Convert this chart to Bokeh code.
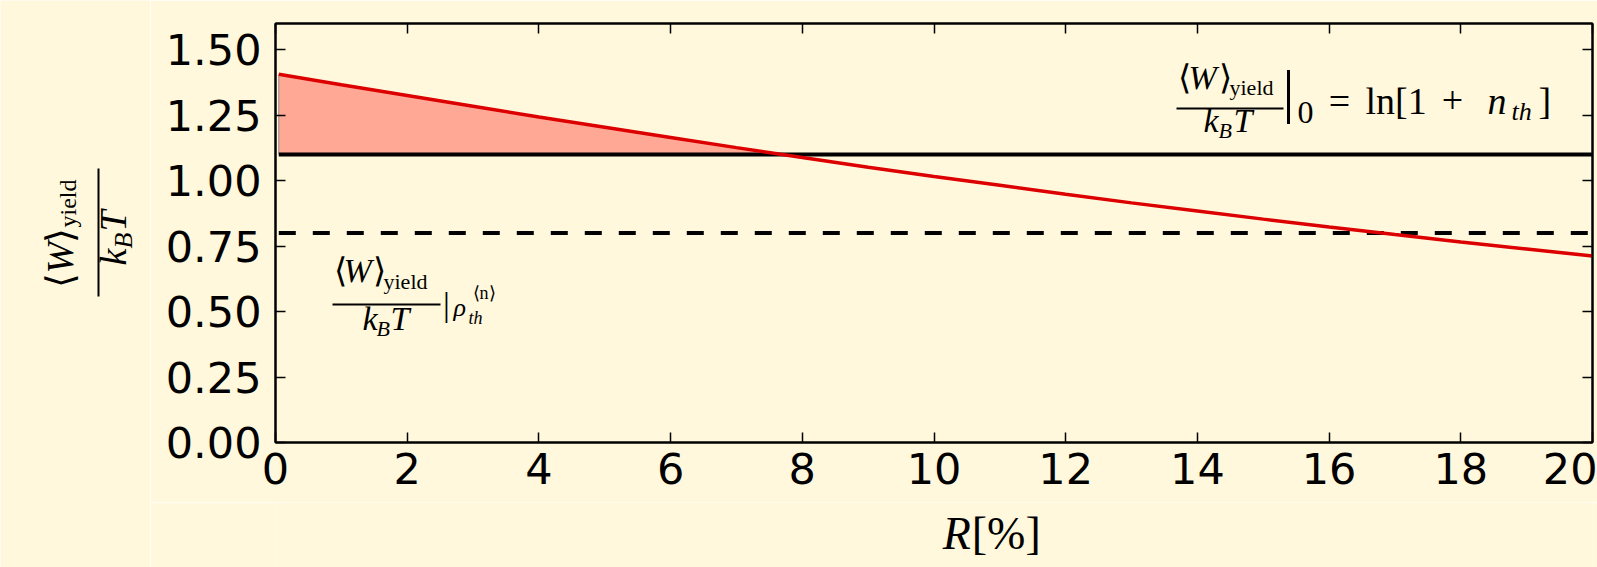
import math
import numpy as np
from bokeh.plotting import figure
from bokeh.layouts import row, column
from bokeh.models import (Label, Arrow, FixedTicker, PrintfTickFormatter, LinearAxis,
                          CustomJSTickFormatter, Range1d)
from bokeh.embed import file_html
from bokeh.resources import INLINE

# Reflectivity loss R [%] and the work yield <W>/k_B T it allows
r_pct = [0.05, 1, 2, 3, 4, 5, 6, 7, 8, 9, 10, 11, 12, 13, 14, 15, 16, 17, 18, 19, 20]
w_yield = [1.406, 1.366, 1.325, 1.284, 1.243, 1.204, 1.165, 1.126, 1.088, 1.051, 1.016,
           0.982, 0.948, 0.915, 0.884, 0.853, 0.823, 0.794, 0.766, 0.739, 0.712]
# reference levels: ground-state bound ln[1+n_th] and thermal-state bound
w_ground = 1.1
w_thermal = 0.8
x_span = [0.05, 20]

x_ticks = [0, 2, 4, 6, 8, 10, 12, 14, 16, 18, 20]
y_ticks = [0.0, 0.25, 0.5, 0.75, 1.0, 1.25, 1.5]

BG = "#FFF8DC"
SERIF = "Liberation Serif"
SANS = "DejaVu Sans"
BASE_FIX = 0.42          # Label baseline correction, in em

PAGE_W, PAGE_H = 1597, 567
YL_W = 150               # strip holding the y-axis title
XL_H = 65                # strip holding the x-axis title
MAIN_W, MAIN_H = PAGE_W - YL_W, PAGE_H - XL_H
LEFT, RIGHT, TOP, BOTTOM = 125, 5, 23, 60
X0, X1, Y0, Y1 = 0, 20, 0, 1.6

p = figure(width=MAIN_W, height=MAIN_H, x_range=Range1d(X0, X1), y_range=Range1d(Y0, Y1),
           output_backend="svg", toolbar_location=None,
           min_border_left=LEFT, min_border_right=RIGHT,
           min_border_top=TOP, min_border_bottom=BOTTOM,
           background_fill_color=BG, border_fill_color=BG)
p.xgrid.visible = False
p.ygrid.visible = False
p.outline_line_color = "black"
p.outline_line_width = 2


def style_axis(ax, ticks):
    ax.ticker = FixedTicker(ticks=ticks, minor_ticks=[])
    ax.axis_line_width = 2
    ax.axis_line_color = "black"
    ax.major_tick_in = 10
    ax.major_tick_out = 0
    ax.major_tick_line_width = 1.5
    ax.major_tick_line_color = "black"
    ax.minor_tick_line_color = None
    ax.major_label_text_font = SANS
    ax.major_label_text_font_size = "43px"
    ax.major_label_text_color = "black"


style_axis(p.xaxis[0], x_ticks)
p.xaxis[0].major_label_standoff = 10
style_axis(p.yaxis[0], y_ticks)
p.yaxis[0].formatter = PrintfTickFormatter(format="%.2f")
p.yaxis[0].major_label_standoff = 14

blank = CustomJSTickFormatter(code="return ''")
for loc, ticks in (("right", y_ticks), ("above", x_ticks)):
    ax = LinearAxis(formatter=blank)
    style_axis(ax, ticks)
    ax.major_label_standoff = 0
    ax.major_label_text_font_size = "1px"
    p.add_layout(ax, loc)

# shaded gain above the ground-state bound
r = np.array(r_pct)
w = np.array(w_yield)
i = int(np.argmax(w <= w_ground))
xc = r[i - 1] + (w_ground - w[i - 1]) * (r[i] - r[i - 1]) / (w[i] - w[i - 1])
fx = np.append(r[:i], xc)
fy = np.append(w[:i], w_ground)
p.varea(x=fx, y1=np.full_like(fx, w_ground), y2=fy, fill_color="red", fill_alpha=0.32)
p.segment(x0=[r[0]], y0=[w_ground], x1=[r[0]], y1=[w[0]],
          line_color="#8a8a8a", line_width=1)

p.line(x_span, [w_ground, w_ground], line_color="black", line_width=4)
p.line(x_span, [w_thermal, w_thermal], line_color="black", line_width=4, line_dash="17 17")
p.line(r_pct, w_yield, line_color="#DC0000", line_width=3.5)


# page-pixel placement of the formula pieces inside the main frame
FW = MAIN_W - LEFT - RIGHT
FH = MAIN_H - TOP - BOTTOM
FRAME_X = YL_W + LEFT


def main_xy(px, py):
    return (X0 + (px - FRAME_X) / FW * (X1 - X0),
            Y0 + (TOP + FH - py) / FH * (Y1 - Y0))


def strip(w_, h_):
    f = figure(width=w_, height=h_, x_range=Range1d(0, w_), y_range=Range1d(h_, 0),
               output_backend="svg", toolbar_location=None,
               min_border=0, background_fill_color=BG, border_fill_color=BG)
    f.axis.visible = False
    f.grid.visible = False
    f.outline_line_color = None
    return f


ylab = strip(YL_W, PAGE_H)
xlab = strip(MAIN_W, XL_H)


def ylab_xy(px, py):
    return px, py


def xlab_xy(px, py):
    return px - YL_W, py - MAIN_H


def tex(fig, to_xy, text, px, py, size, italic=True, align="left", angle=0.0):
    # shift so that (px, py) is the alphabetic baseline of the glyphs
    d = BASE_FIX * size
    if angle:
        px -= d
    else:
        py -= d
    x, y = to_xy(px, py)
    fig.add_layout(Label(x=x, y=y, text=text, text_font=SERIF,
                         text_font_size=f"{size}px",
                         text_font_style="italic" if italic else "normal",
                         text_align=align, text_baseline="alphabetic",
                         angle=angle, text_color="black"))


def bar(fig, to_xy, px0, py0, px1, py1, width=2):
    xa, ya = to_xy(px0, py0)
    xb, yb = to_xy(px1, py1)
    fig.add_layout(Arrow(start=None, end=None, x_start=xa, y_start=ya,
                         x_end=xb, y_end=yb, line_width=width, line_color="black"))


UP = math.pi / 2

# y axis title: <W>_yield / k_B T, rotated
tex(ylab, ylab_xy, "⟨", 75, 287, 38, italic=False, angle=UP)
tex(ylab, ylab_xy, "W", 75, 273, 38, angle=UP)
tex(ylab, ylab_xy, "⟩", 75, 242, 38, italic=False, angle=UP)
tex(ylab, ylab_xy, "yield", 78, 227, 24, italic=False, angle=UP)
bar(ylab, ylab_xy, 98, 168, 98, 296)
tex(ylab, ylab_xy, "k", 128, 265, 38, angle=UP)
tex(ylab, ylab_xy, "B", 134, 248, 26, angle=UP)
tex(ylab, ylab_xy, "T", 128, 231, 38, angle=UP)

# x axis title
tex(xlab, xlab_xy, "R", 883, 552, 46)
tex(xlab, xlab_xy, "[%]", 915, 552, 46, italic=False)

m = (p, main_xy)

# ground-state bound formula
tex(*m, "⟨", 1177, 91, 34, italic=False)
tex(*m, "W", 1188, 91, 34)
tex(*m, "⟩", 1218, 91, 34, italic=False)
tex(*m, "yield", 1229, 96, 22, italic=False)
bar(*m, 1176, 108, 1283, 108)
tex(*m, "k", 1203, 134, 34)
tex(*m, "B", 1218, 139, 22)
tex(*m, "T", 1233, 134, 34)
tex(*m, "|", 1288, 116, 60, italic=False, align="center")
tex(*m, "0", 1297, 125, 32, italic=False)
tex(*m, "=", 1339, 116, 38, italic=False, align="center")
tex(*m, "ln[1", 1365, 116, 38, italic=False)
tex(*m, "+", 1452, 116, 38, italic=False, align="center")
tex(*m, "n", 1487, 116, 38)
tex(*m, "th", 1511, 122, 26)
tex(*m, "]", 1538, 116, 38, italic=False)

# thermal-state bound formula
tex(*m, "⟨", 333, 284, 34, italic=False)
tex(*m, "W", 343, 284, 34)
tex(*m, "⟩", 372, 284, 34, italic=False)
tex(*m, "yield", 383, 290, 22, italic=False)
bar(*m, 332, 304, 440, 304)
tex(*m, "k", 362, 332, 34)
tex(*m, "B", 376, 337, 22)
tex(*m, "T", 390, 332, 34)
tex(*m, "|", 446, 318, 34, italic=False, align="center")
tex(*m, "ρ", 453, 318, 26)
tex(*m, "th", 468, 325, 18)
tex(*m, "⟨n⟩", 472, 300, 18, italic=False)

layout = row(ylab, column(p, xlab, spacing=0), spacing=0)
open("out.html", "w").write(file_html(layout, INLINE))
